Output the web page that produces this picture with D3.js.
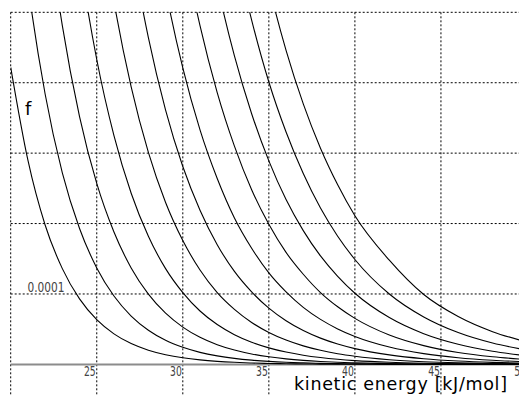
<!DOCTYPE html>
<html>
<head>
<meta charset="utf-8">
<script src="https://cdn.jsdelivr.net/npm/d3@7"></script>
<style>
  body { margin: 0; background: #fff; }
  svg { display: block; }
</style>
</head>
<body>
<div id="chart"></div>
<script>
const energies = [20, 21, 22, 23, 24, 25, 26, 27, 28, 29, 30, 31, 32, 33, 34, 35,
  36, 37, 38, 39, 40, 42, 44, 46, 48, 50];

// f values, in units of 0.0001, one array per curve (coolest first)
const f300 = [4.22, 2.90, 1.98, 1.36, 0.930, 0.636, 0.434, 0.296, 0.202, 0.138, 0.0938, 0.0639, 0.0435,
  0.0296, 0.0201, 0.0137, 0.0093, 0.0063, 0.0043, 0.0029, 0.0020, 0.0009, 0.0004, 0.0002, 0.0001, 0.00004];
const f330 = [7.58, 5.40, 3.84, 2.72, 1.93, 1.37, 0.971, 0.687, 0.486, 0.343, 0.243, 0.171, 0.121,
  0.0853, 0.0601, 0.0424, 0.0298, 0.0210, 0.0148, 0.0104, 0.0073, 0.0036, 0.0018, 0.0009, 0.0004, 0.0002];
const f360 = [12.2, 8.96, 6.57, 4.81, 3.52, 2.57, 1.88, 1.37, 0.998, 0.727, 0.530, 0.385, 0.280,
  0.204, 0.148, 0.108, 0.0782, 0.0567, 0.0412, 0.0299, 0.0217, 0.0114, 0.0060, 0.0031, 0.0016, 0.0009];
const f390 = [18.1, 13.6, 10.3, 7.70, 5.78, 4.33, 3.25, 2.43, 1.82, 1.36, 1.02, 0.758, 0.566,
  0.422, 0.315, 0.235, 0.175, 0.130, 0.0970, 0.0722, 0.0537, 0.0297, 0.0164, 0.0091, 0.0050, 0.0028];
const f420 = [25.2, 19.4, 14.9, 11.4, 8.77, 6.72, 5.15, 3.94, 3.01, 2.30, 1.76, 1.34, 1.02,
  0.782, 0.596, 0.454, 0.346, 0.263, 0.200, 0.152, 0.116, 0.0670, 0.0387, 0.0223, 0.0129, 0.0074];
const f450 = [33.3, 26.1, 20.4, 16.0, 12.5, 9.77, 7.63, 5.95, 4.64, 3.61, 2.81, 2.19, 1.70,
  1.32, 1.03, 0.799, 0.620, 0.481, 0.373, 0.289, 0.224, 0.135, 0.0808, 0.0484, 0.0290, 0.0173];
const f480 = [42.2, 33.6, 26.8, 21.3, 17.0, 13.5, 10.7, 8.48, 6.72, 5.32, 4.21, 3.33, 2.64,
  2.08, 1.65, 1.30, 1.03, 0.810, 0.639, 0.504, 0.397, 0.247, 0.153, 0.0947, 0.0586, 0.0363];
const f510 = [51.7, 41.8, 33.8, 27.3, 22.0, 17.8, 14.3, 11.5, 9.27, 7.45, 5.99, 4.81, 3.86,
  3.10, 2.48, 1.99, 1.59, 1.28, 1.02, 0.818, 0.654, 0.418, 0.267, 0.170, 0.109, 0.0692];
const f540 = [61.7, 50.6, 41.4, 33.9, 27.7, 22.6, 18.5, 15.1, 12.3, 10.0, 8.14, 6.62, 5.39,
  4.38, 3.56, 2.89, 2.34, 1.90, 1.54, 1.25, 1.01, 0.665, 0.436, 0.286, 0.187, 0.122];
const f570 = [71.9, 59.6, 49.4, 40.9, 33.9, 28.0, 23.1, 19.1, 15.7, 13.0, 10.7, 8.79, 7.23,
  5.94, 4.89, 4.01, 3.30, 2.71, 2.22, 1.82, 1.49, 1.00, 0.674, 0.452, 0.303, 0.203];
const f600 = [82.2, 68.9, 57.7, 48.3, 40.4, 33.7, 28.2, 23.5, 19.6, 16.3, 13.6, 11.3, 9.38,
  7.80, 6.48, 5.38, 4.46, 3.70, 3.07, 2.55, 2.11, 1.48, 0.992, 0.680, 0.465, 0.318];

const series = [f300, f330, f360, f390, f420, f450, f480, f510, f540, f570, f600];

// grid + tick labels
const xTicks = [20, 25, 30, 35, 40, 45, 50];
const xLabels = ['', '25', '30', '35', '40', '45', '50'];
const yTicks = [0.0001, 0.0002, 0.0003, 0.0004, 0.0005];
const yLabel = '0.0001';
const unit = 0.0001;

width = 519;
height = 396;

// the plot runs past the right edge of the picture (50 sits at ~527px)
x = d3.scaleLinear().domain([20, 50]).range([10.7, 527]);
y = d3.scaleLinear().domain([0, 0.0005]).range([364.4, 12.3]);

var svg = d3.select('#chart')
  .append('svg')
  .attr('width', width)
  .attr('height', height)
  .attr('viewBox', [0, 0, width, height]);

svg.append('clipPath').attr('id', 'plotclip')
  .append('rect')
  .attr('x', x(20))
  .attr('y', y(0.0005))
  .attr('width', x(50) - x(20))
  .attr('height', y(0) - y(0.0005) + 1);

// dotted grid ---
svg.append('g')
  .selectAll('line')
  .data(xTicks)
  .join('line')
  .attr('x1', (d) => x(d))
  .attr('x2', (d) => x(d))
  .attr('y1', y(0.0005))
  .attr('y2', height)
  .attr('stroke', '#000')
  .attr('stroke-dasharray', '2,2');

svg.append('g')
  .selectAll('line')
  .data(yTicks)
  .join('line')
  .attr('x1', x(20))
  .attr('x2', x(50))
  .attr('y1', (d) => y(d))
  .attr('y2', (d) => y(d))
  .attr('stroke', '#000')
  .attr('stroke-dasharray', '2,2');

// zero line
svg.append('line')
  .attr('x1', x(20))
  .attr('x2', x(50))
  .attr('y1', y(0))
  .attr('y2', y(0))
  .attr('stroke', '#8c8c8c')
  .attr('stroke-width', 2);

// curves
line = d3.line()
  .x((d, i) => x(energies[i]))
  .y((d) => y(d * unit))
  .curve(d3.curveMonotoneX);

svg.append('g')
  .attr('clip-path', 'url(#plotclip)')
  .selectAll('path')
  .data(series)
  .join('path')
  .attr('d', line)
  .attr('fill', 'none')
  .attr('stroke', '#000')
  .attr('stroke-width', 1.1);

// tick labels, narrow grey digits
svg.append('g')
  .selectAll('text')
  .data(xTicks)
  .join('text')
  .attr('x', (d) => x(d) - 1)
  .attr('y', 376)
  .attr('text-anchor', 'end')
  .attr('font-family', 'DejaVu Sans')
  .attr('font-size', 14)
  .attr('fill', '#444')
  .attr('textLength', (d, i) => xLabels[i].length * 5.9 || null)
  .attr('lengthAdjust', 'spacingAndGlyphs')
  .text((d, i) => xLabels[i]);

svg.append('text')
  .attr('x', 64.5)
  .attr('y', y(unit) - 1.8)
  .attr('text-anchor', 'end')
  .attr('font-family', 'DejaVu Sans')
  .attr('font-size', 14)
  .attr('fill', '#444')
  .attr('textLength', 37)
  .attr('lengthAdjust', 'spacingAndGlyphs')
  .text(yLabel);

// axis names
svg.append('text')
  .attr('x', 25)
  .attr('y', 115)
  .attr('font-family', 'DejaVu Sans')
  .attr('font-size', 18)
  .attr('fill', '#000')
  .text('f');

svg.append('text')
  .attr('x', 294)
  .attr('y', 390)
  .attr('font-family', 'DejaVu Sans')
  .attr('font-size', 17.5)
  .attr('fill', '#000')
  .attr('textLength', 213)
  .attr('lengthAdjust', 'spacing')
  .text('kinetic energy [kJ/mol]');
</script>
</body>
</html>
